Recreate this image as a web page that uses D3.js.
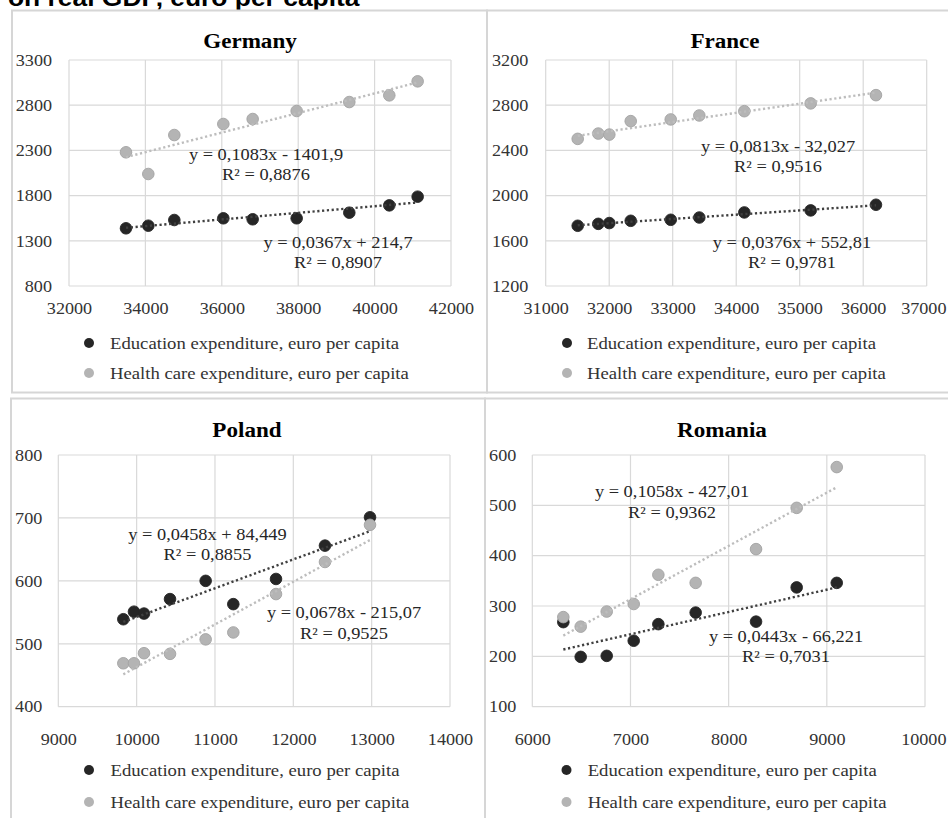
<!DOCTYPE html>
<html>
<head>
<meta charset="utf-8">
<script src="https://cdn.jsdelivr.net/npm/d3@7"></script>
<style>
  html, body { margin: 0; padding: 0; background: #ffffff; }
  svg { display: block; }
  text { font-family: "Liberation Serif", "Times New Roman", serif; }
</style>
</head>
<body>
<svg id="chart" width="948" height="818"></svg>
<script>
// ---- Data: GDP per capita (x) vs. spending per capita (y), euro ----
const germanyGdp       = [33492, 34076, 34757, 36040, 36808, 37960, 39338, 40385, 41127];
const germanyEducation = [1438, 1467, 1530, 1549, 1538, 1549, 1611, 1692, 1788];
const germanyHealth    = [2279, 2039, 2470, 2592, 2647, 2736, 2835, 2909, 3064];
const germanyEduFit    = [0.0367, 214.7, 0.8907];
const germanyHealthFit = [0.1083, -1401.9, 0.8876];
const germanyXTicks    = [32000, 34000, 36000, 38000, 40000, 42000];
const germanyYTicks    = [800, 1300, 1800, 2300, 2800, 3300];

const franceGdp        = [31504, 31828, 32002, 32339, 32969, 33419, 34128, 35173, 36201];
const franceEducation  = [1733, 1750, 1757, 1777, 1786, 1806, 1851, 1869, 1919];
const franceHealth     = [2502, 2549, 2540, 2659, 2674, 2709, 2747, 2816, 2889];
const franceEduFit     = [0.0376, 552.81, 0.9781];
const franceHealthFit  = [0.0813, -32.027, 0.9516];
const franceXTicks     = [31000, 32000, 33000, 34000, 35000, 36000, 37000];
const franceYTicks     = [1200, 1600, 2000, 2400, 2800, 3200];

const polandGdp        = [9830, 9966, 10094, 10426, 10881, 11234, 11779, 12404, 12979];
const polandEducation  = [539, 551, 548, 571, 600, 563, 603, 656, 701];
const polandHealth     = [469, 469, 485, 484, 507, 518, 579, 630, 689];
const polandEduFit     = [0.0458, 84.449, 0.8855];
const polandHealthFit  = [0.0678, -215.07, 0.9525];
const polandXTicks     = [9000, 10000, 11000, 12000, 13000, 14000];
const polandYTicks     = [400, 500, 600, 700, 800];

const romaniaGdp       = [6316, 6493, 6758, 7033, 7284, 7664, 8279, 8693, 9101];
const romaniaEducation = [268, 199, 201, 231, 264, 287, 269, 337, 346];
const romaniaHealth    = [278, 259, 289, 304, 362, 346, 413, 495, 576];
const romaniaEduFit    = [0.0443, -66.221, 0.7031];
const romaniaHealthFit = [0.1058, -427.01, 0.9362];
const romaniaXTicks    = [6000, 7000, 8000, 9000, 10000];
const romaniaYTicks    = [100, 200, 300, 400, 500, 600];

const seriesNames = ["Education expenditure, euro per capita", "Health care expenditure, euro per capita"];
const headerText = "on real GDP, euro per capita";

// ---- Styling ----
const W = 948;
const SX = 1.1;                 // slight horizontal stretch applied to all text
const TICK_FONT = 16.5, EQ_FONT = 16.7, LEGEND_FONT = 17, TITLE_FONT = 21;
const EDU_COLOR = "#262626", EDU_LINE = "#404040";
const HEALTH_COLOR = "#b4b4b4", HEALTH_STROKE = "#a3a3a3", HEALTH_LINE = "#bdbdbd";
const GRID = "#d9d9d9", BORDER = "#d6d6d6", TEXT = "#333333";

const svg = d3.select("#chart");

function stretchedText(g, x, y, str, anchor, size, weight, color, family) {
  return g.append("text")
    .attr("transform", `translate(${x},${y}) scale(${SX},1)`)
    .attr("text-anchor", anchor)
    .style("font-size", size + "px")
    .style("font-weight", weight || "normal")
    .style("font-family", family || null)
    .attr("fill", color)
    .text(str);
}

const fmtNum = v => String(v).replace(".", ",");
const eqText = fit => `y = ${fmtNum(fit[0])}x ${fit[1] < 0 ? "-" : "+"} ${fmtNum(Math.abs(fit[1]))}`;
const r2Text = fit => `R² = ${fmtNum(fit[2])}`;

const panels = [
  { name: "Germany", gdp: germanyGdp, edu: germanyEducation, health: germanyHealth,
    eduFit: germanyEduFit, healthFit: germanyHealthFit, xTicks: germanyXTicks, yTicks: germanyYTicks,
    box: [12, 10.5, 475, 382], plot: { l: 69, r: 451, t: 60, b: 286 }, xPad: 17, yPad: 17,
    title: [250, 48], eduLabel: [338, 248], healthLabel: [266, 160], legend: [89, 110, 343, 373] },
  { name: "France", gdp: franceGdp, edu: franceEducation, health: franceHealth,
    eduFit: franceEduFit, healthFit: franceHealthFit, xTicks: franceXTicks, yTicks: franceYTicks,
    box: [487, 10.5, 475, 382], plot: { l: 545.7, r: 926.7, t: 60, b: 286 }, xPad: 17, yPad: 17.4,
    title: [725, 48], eduLabel: [792, 248], healthLabel: [778, 151.7], legend: [567, 587, 343, 373] },
  { name: "Poland", gdp: polandGdp, edu: polandEducation, health: polandHealth,
    eduFit: polandEduFit, healthFit: polandHealthFit, xTicks: polandXTicks, yTicks: polandYTicks,
    box: [11, 398.5, 474, 430], plot: { l: 58.3, r: 450, t: 455, b: 706.7 }, xPad: 28, yPad: 16,
    title: [247, 437], eduLabel: [207.5, 540], healthLabel: [344, 618.3], legend: [89, 110.5, 770, 802] },
  { name: "Romania", gdp: romaniaGdp, edu: romaniaEducation, health: romaniaHealth,
    eduFit: romaniaEduFit, healthFit: romaniaHealthFit, xTicks: romaniaXTicks, yTicks: romaniaYTicks,
    box: [485, 398.5, 475, 430], plot: { l: 532.3, r: 925, t: 455, b: 706.7 }, xPad: 28, yPad: 16,
    title: [722, 437], eduLabel: [786, 641.7], healthLabel: [672, 497.3], legend: [566.5, 587.7, 770, 802] }
];

// Header line (continuation of a heading above the figure)
stretchedText(svg, 8, 6, headerText, "start", 24, "bold", "#000", "'Liberation Sans', Arial, sans-serif");

panels.forEach(p => {
  const g = svg.append("g");
  const [bx, by, bw, bh] = p.box;
  g.append("rect").attr("x", bx).attr("y", by).attr("width", bw).attr("height", bh)
    .attr("fill", "none").attr("stroke", BORDER).attr("stroke-width", 2);

  const x = d3.scaleLinear().domain(d3.extent(p.xTicks)).range([p.plot.l, p.plot.r]);
  const y = d3.scaleLinear().domain(d3.extent(p.yTicks)).range([p.plot.b, p.plot.t]);

  // grid
  g.append("g").selectAll("line").data(p.xTicks).join("line")
    .attr("x1", d => x(d)).attr("x2", d => x(d)).attr("y1", p.plot.t).attr("y2", p.plot.b)
    .attr("stroke", GRID).attr("stroke-width", 1.2);
  g.append("g").selectAll("line").data(p.yTicks).join("line")
    .attr("y1", d => y(d)).attr("y2", d => y(d)).attr("x1", p.plot.l).attr("x2", p.plot.r)
    .attr("stroke", GRID).attr("stroke-width", 1.2);

  // axes (labels only)
  const xAxis = g.append("g").attr("transform", `translate(0,${p.plot.b})`)
    .call(d3.axisBottom(x).tickValues(p.xTicks).tickFormat(d3.format("d")).tickSize(0).tickPadding(p.xPad - 1));
  const yAxis = g.append("g").attr("transform", `translate(${p.plot.l},0)`)
    .call(d3.axisLeft(y).tickValues(p.yTicks).tickFormat(d3.format("d")).tickSize(0).tickPadding(p.yPad));
  [xAxis, yAxis].forEach(a => {
    a.select(".domain").remove();
    a.selectAll("text")
      .style("font-family", "'Liberation Serif', 'Times New Roman', serif")
      .style("font-size", TICK_FONT + "px").attr("fill", TEXT);
  });
  yAxis.selectAll("text").attr("x", -p.yPad / SX).attr("transform", `scale(${SX},1)`);
  // keep the last x label inside the page edge
  xAxis.selectAll("text").each(function(d) {
    const half = this.getComputedTextLength() * SX / 2;
    const shift = Math.min(0, (W - 2) - (x(d) + half));
    d3.select(this).attr("x", shift / SX).attr("transform", `scale(${SX},1)`);
  });

  // title
  stretchedText(g, p.title[0], p.title[1], p.name, "middle", TITLE_FONT, "bold", "#000");

  // points
  const series = [
    { vals: p.edu, fill: EDU_COLOR, stroke: EDU_COLOR, fit: p.eduFit, line: EDU_LINE, label: p.eduLabel },
    { vals: p.health, fill: HEALTH_COLOR, stroke: HEALTH_STROKE, fit: p.healthFit, line: HEALTH_LINE, label: p.healthLabel }
  ];
  series.forEach(s => {
    g.append("g").selectAll("circle").data(p.gdp.map((gx, i) => [gx, s.vals[i]])).join("circle")
      .attr("cx", d => x(d[0])).attr("cy", d => y(d[1])).attr("r", 5.8)
      .attr("fill", s.fill).attr("stroke", s.stroke).attr("stroke-width", 0.9);
  });
  // linear trendlines from the stated equations
  series.forEach(s => {
    const [x0, x1] = d3.extent(p.gdp);
    const pts = [x0, x1].map(v => [v, s.fit[0] * v + s.fit[1]]);
    g.append("path").attr("d", d3.line().x(d => x(d[0])).y(d => y(d[1]))(pts))
      .attr("fill", "none").attr("stroke", s.line).attr("stroke-width", 2.4)
      .attr("stroke-dasharray", "2.2,2.6");
    stretchedText(g, s.label[0], s.label[1], eqText(s.fit), "middle", EQ_FONT, "normal", "#262626");
    stretchedText(g, s.label[0], s.label[1] + 20.3, r2Text(s.fit), "middle", EQ_FONT, "normal", "#262626");
  });

  // legend
  const [mx, tx, ly1, ly2] = p.legend;
  [[EDU_COLOR, ly1, seriesNames[0]], [HEALTH_COLOR, ly2, seriesNames[1]]].forEach(([c, ly, name]) => {
    g.append("circle").attr("cx", mx).attr("cy", ly).attr("r", 5).attr("fill", c);
    stretchedText(g, tx, ly + 5.5, name, "start", LEGEND_FONT, "normal", TEXT);
  });
});
</script>
</body>
</html>
